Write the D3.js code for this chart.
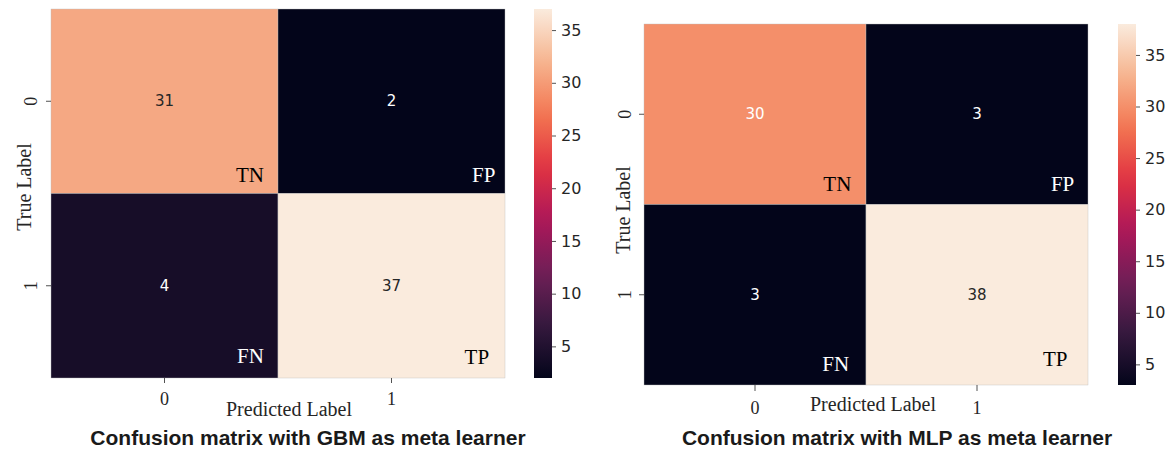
<!DOCTYPE html>
<html>
<head>
<meta charset="utf-8">
<script src="https://cdn.jsdelivr.net/npm/d3@7"></script>
<style>
  body { margin: 0; background: #fff; }
  svg { display: block; }
</style>
</head>
<body>
<svg id="chart" width="1172" height="451"></svg>
<script>
// ---- data ----
const classLabels = ["0", "1"];
const cellTags = [["TN", "FP"], ["FN", "TP"]];
const gbmMatrix = [[31, 2], [4, 37]];
const mlpMatrix = [[30, 3], [3, 38]];
const colorbarTicks = [5, 10, 15, 20, 25, 30, 35];
const gbmTitle = "Confusion matrix with GBM as meta learner";
const mlpTitle = "Confusion matrix with MLP as meta learner";
const xAxisTitle = "Predicted Label";
const yAxisTitle = "True Label";

// rocket colormap, evenly spaced anchor colours
const rocketStops = ["#03051a", "#35193e", "#701f57", "#ad1759", "#e13342", "#f37651", "#f6b48f", "#faebdd"];
const rocket = d3.piecewise(d3.interpolateRgb, rocketStops);

// ---- layout ----
const panels = [
  {
    matrix: gbmMatrix, title: gbmTitle,
    x0: 51, x1: 505, y0: 9, y1: 378, cb0: 534, cb1: 552,
    xTickSize: 5, xTickPad: 9, xLabel: [289, 416],
    yTickBase: 14, yLabel: [31, 187], titlePos: [308, 445],
    tagPos: [[[0.938, 0.935], [0.958, 0.935]], [[0.938, 0.916], [0.93, 0.924]]]
  },
  {
    matrix: mlpMatrix, title: mlpTitle,
    x0: 644, x1: 1088, y0: 24, y1: 385, cb0: 1118, cb1: 1136,
    xTickSize: 6, xTickPad: 10, xLabel: [873, 411],
    yTickBase: 13, yLabel: [630, 210], titlePos: [897, 445],
    tagPos: [[[0.934, 0.926], [0.938, 0.926]], [[0.924, 0.924], [0.908, 0.896]]]
  }
];

const svg = d3.select("#chart");
const defs = svg.append("defs");
const serif = "'Liberation Serif', 'Times New Roman', serif";
const sans = "'DejaVu Sans', sans-serif";
const ink = "#262626";

function luminance(c) {
  const rgb = d3.rgb(c);
  const lin = v => { v /= 255; return v <= 0.03928 ? v / 12.92 : Math.pow((v + 0.055) / 1.055, 2.4); };
  return 0.2126 * lin(rgb.r) + 0.7152 * lin(rgb.g) + 0.0722 * lin(rgb.b);
}

panels.forEach((p, pi) => {
  const values = p.matrix.flat();
  const vmin = d3.min(values), vmax = d3.max(values);
  const color = d3.scaleSequential(rocket).domain([vmin, vmax]);

  const x = d3.scaleBand().domain(classLabels).range([p.x0, p.x1]);
  const y = d3.scaleBand().domain(classLabels).range([p.y0, p.y1]);

  const g = svg.append("g");
  const cells = [];
  p.matrix.forEach((row, r) => row.forEach((v, c) => cells.push({ r, c, v })));

  g.selectAll("rect.cell").data(cells).join("rect")
    .attr("class", "cell")
    .attr("x", d => x(classLabels[d.c]))
    .attr("y", d => y(classLabels[d.r]))
    .attr("width", x.bandwidth())
    .attr("height", y.bandwidth())
    .attr("fill", d => color(d.v))
    .attr("stroke", "#bdbdbd")
    .attr("stroke-width", 0.4);

  // value annotations
  g.selectAll("text.val").data(cells).join("text")
    .attr("class", "val")
    .attr("x", d => x(classLabels[d.c]) + x.bandwidth() / 2)
    .attr("y", d => y(classLabels[d.r]) + y.bandwidth() / 2)
    .attr("text-anchor", "middle")
    .attr("dominant-baseline", "central")
    .attr("font-family", sans)
    .attr("font-size", 15)
    .attr("fill", d => luminance(color(d.v)) > 0.408 ? ink : "#ffffff")
    .text(d => d.v);

  // TN / FP / FN / TP tags
  g.selectAll("text.tag").data(cells).join("text")
    .attr("class", "tag")
    .attr("x", d => x(classLabels[d.c]) + x.bandwidth() * p.tagPos[d.r][d.c][0])
    .attr("y", d => y(classLabels[d.r]) + y.bandwidth() * p.tagPos[d.r][d.c][1])
    .attr("text-anchor", "end")
    .attr("font-family", serif)
    .attr("font-size", 21)
    .attr("fill", d => luminance(color(d.v)) > 0.2 ? "#000000" : "#ffffff")
    .text(d => cellTags[d.r][d.c]);

  // x axis
  const xAxis = g.append("g")
    .attr("transform", `translate(0,${p.y1})`)
    .call(d3.axisBottom(x).tickSize(p.xTickSize).tickPadding(p.xTickPad));
  xAxis.select(".domain").remove();
  xAxis.selectAll("line").attr("stroke", ink).attr("stroke-width", 0.8);
  xAxis.selectAll("text").attr("font-family", serif).attr("font-size", 18).attr("fill", ink);

  // y axis with rotated labels
  const yAxis = g.append("g")
    .attr("transform", `translate(${p.x0},0)`)
    .call(d3.axisLeft(y).tickSize(5).tickFormat(""));
  yAxis.select(".domain").remove();
  yAxis.selectAll("line").attr("stroke", ink).attr("stroke-width", 0.8);
  g.selectAll("text.ytick").data(classLabels).join("text")
    .attr("class", "ytick")
    .attr("transform", d => `translate(${p.x0 - p.yTickBase},${y(d) + y.bandwidth() / 2}) rotate(-90)`)
    .attr("text-anchor", "middle")
    .attr("font-family", serif)
    .attr("font-size", 18)
    .attr("fill", ink)
    .text(d => d);

  // axis titles
  g.append("text")
    .attr("x", p.xLabel[0]).attr("y", p.xLabel[1])
    .attr("text-anchor", "middle")
    .attr("font-family", serif).attr("font-size", 20).attr("fill", ink)
    .text(xAxisTitle);
  g.append("text")
    .attr("transform", `translate(${p.yLabel[0]},${p.yLabel[1]}) rotate(-90)`)
    .attr("text-anchor", "middle")
    .attr("font-family", serif).attr("font-size", 20).attr("fill", ink)
    .text(yAxisTitle);

  // colour bar
  const gradId = "rocket-grad-" + pi;
  const grad = defs.append("linearGradient").attr("id", gradId)
    .attr("x1", 0).attr("y1", 1).attr("x2", 0).attr("y2", 0);
  d3.range(0, 1.0001, 0.05).forEach(t => {
    grad.append("stop").attr("offset", t).attr("stop-color", rocket(t));
  });
  g.append("rect")
    .attr("x", p.cb0).attr("y", p.y0)
    .attr("width", p.cb1 - p.cb0).attr("height", p.y1 - p.y0)
    .attr("fill", `url(#${gradId})`);
  const cScale = d3.scaleLinear().domain([vmin, vmax]).range([p.y1, p.y0]);
  const cAxis = g.append("g")
    .attr("transform", `translate(${p.cb1},0)`)
    .call(d3.axisRight(cScale).tickValues(colorbarTicks).tickSize(4).tickPadding(5));
  cAxis.select(".domain").remove();
  cAxis.selectAll("line").attr("stroke", ink).attr("stroke-width", 0.8);
  cAxis.selectAll("text").attr("font-family", sans).attr("font-size", 16).attr("fill", ink);

  // caption
  svg.append("text")
    .attr("x", p.titlePos[0]).attr("y", p.titlePos[1])
    .attr("text-anchor", "middle")
    .attr("font-family", "'Liberation Sans', Arial, sans-serif")
    .attr("font-weight", "bold")
    .attr("font-size", 21)
    .attr("fill", "#1a1a1a")
    .text(p.title);
});
</script>
</body>
</html>
